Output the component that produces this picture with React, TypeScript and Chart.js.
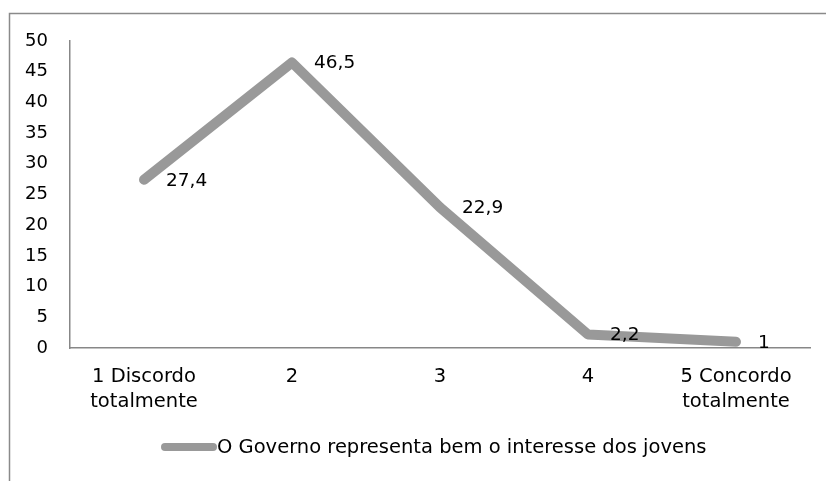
import React, { useEffect, useRef } from "react";
import { Chart, registerables } from "chart.js";

Chart.register(...registerables);

const categories: (string | string[])[] = [
  ["1 Discordo", "totalmente"],
  "2",
  "3",
  "4",
  ["5 Concordo", "totalmente"],
];
const seriesName = "O Governo representa bem o interesse dos jovens";
const values = [27.4, 46.5, 22.9, 2.2, 1];
const valueLabels = ["27,4", "46,5", "22,9", "2,2", "1"];
const yMin = 0;
const yMax = 50;
const yStep = 5;

const FONT = "'DejaVu Sans', Verdana, sans-serif";
const LINE_COLOR = "#999999";
const AXIS_COLOR = "#878787";

const decorPlugin = {
  id: "decor",
  beforeDraw(chart: any) {
    const ctx = chart.ctx;
    ctx.save();
    ctx.fillStyle = "#ffffff";
    ctx.fillRect(0, 0, chart.width, chart.height);
    ctx.strokeStyle = "#8a8a8a";
    ctx.lineWidth = 1.5;
    ctx.strokeRect(9.5, 13.5, chart.width + 50, chart.height + 50);
    ctx.restore();
  },
  afterDatasetsDraw(chart: any) {
    const ctx = chart.ctx;
    const meta = chart.getDatasetMeta(0);
    ctx.save();
    ctx.font = `18.5px ${FONT}`;
    ctx.fillStyle = "#000000";
    ctx.textAlign = "left";
    ctx.textBaseline = "middle";
    meta.data.forEach((pt: any, i: number) => {
      ctx.fillText(valueLabels[i], pt.x + 22, pt.y + 1);
    });
    // legend
    const ly = 447;
    ctx.strokeStyle = LINE_COLOR;
    ctx.lineWidth = 8;
    ctx.lineCap = "round";
    ctx.beginPath();
    ctx.moveTo(165, ly);
    ctx.lineTo(213, ly);
    ctx.stroke();
    ctx.font = `19.5px ${FONT}`;
    ctx.fillText(chart.data.datasets[0].label, 217, ly + 1);
    ctx.restore();
  },
};

export default function App() {
  const ref = useRef<HTMLCanvasElement>(null);
  useEffect(() => {
    if (!ref.current) return;
    const chart = new Chart(ref.current, {
      type: "line",
      data: {
        labels: categories,
        datasets: [
          {
            label: seriesName,
            data: values,
            borderColor: LINE_COLOR,
            backgroundColor: LINE_COLOR,
            borderWidth: 10,
            borderCapStyle: "round",
            borderJoinStyle: "round",
            pointRadius: 0,
            tension: 0,
          },
        ],
      },
      options: {
        animation: false,
        responsive: false,
        layout: { padding: { left: 0, top: 41, right: 16, bottom: 0 } },
        plugins: { legend: { display: false }, tooltip: { enabled: false } },
        scales: {
          x: {
            offset: true,
            grid: { display: false, drawTicks: false },
            border: { display: true, color: AXIS_COLOR, width: 1.5 },
            ticks: {
              color: "#000000",
              font: { family: FONT, size: 19.5, lineHeight: 1.3 },
              padding: 16,
              maxRotation: 0,
              autoSkip: false,
            },
            afterFit: (s: any) => {
              s.height = 133;
            },
          },
          y: {
            min: yMin,
            max: yMax,
            grid: { display: false, drawTicks: false },
            border: { display: true, color: AXIS_COLOR, width: 1.5 },
            ticks: {
              stepSize: yStep,
              color: "#000000",
              font: { family: FONT, size: 18 },
              padding: 22,
            },
            afterFit: (s: any) => {
              s.width = 70;
            },
          },
        },
      },
      plugins: [decorPlugin],
    });
    return () => chart.destroy();
  }, []);
  return (
    <div style={{ position: "fixed", left: 0, top: 0, width: 826, height: 481 }}>
      <canvas ref={ref} width={826} height={481} />
    </div>
  );
}
